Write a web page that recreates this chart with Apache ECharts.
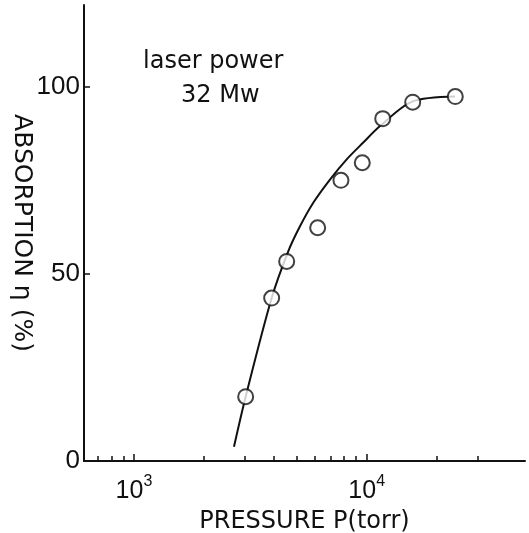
<!DOCTYPE html>
<html>
<head>
<meta charset="utf-8">
<script src="https://cdn.jsdelivr.net/npm/echarts@6/dist/echarts.min.js"></script>
<style>
html,body{margin:0;padding:0;background:#fff;}
#chart{width:529px;height:533px;}
</style>
</head>
<body>
<div id="chart"></div>
<script>
// Measured points (pressure in torr, absorption in %)
const pointPressure = [3020, 3906, 4531, 6157, 7753, 9575, 11720, 15770, 24030];
const pointAbsorption = [17.2, 43.6, 53.4, 62.4, 75.1, 79.8, 91.6, 96.0, 97.5];
// Fitted curve
const curvePressure = [2690, 3020, 3906, 4603, 5169, 5895, 6955, 8207, 9669, 11409, 15613, 23960];
const curveAbsorption = [3.8, 17.2, 43.6, 56.1, 62.8, 69.1, 75.3, 80.7, 85.2, 89.6, 96.1, 97.5];
// Axis ticks
const xMinorTicks = [700, 800, 900, 2000, 3000, 4000, 5000, 6000, 7000, 8000, 9000, 20000, 30000];
const xMajorTicks = [1000, 10000];
const yTicks = [0, 50, 100];
const annotation = ['laser power', '32 Mw'];

const FONT = 'Liberation Sans';
const TFONT = 'DejaVu Sans';
const chart = echarts.init(document.getElementById('chart'));

const points = pointPressure.map((p, i) => [p, pointAbsorption[i]]);
const curve = curvePressure.map((p, i) => [p, curveAbsorption[i]]);

const xCommon = {
  type: 'log',
  logBase: 10,
  min: 610,
  max: 47900,
  splitLine: { show: false },
  minorTick: { show: false },
  minorSplitLine: { show: false }
};

chart.setOption({
  animation: false,
  backgroundColor: '#fff',
  grid: { left: 84, right: 4, top: 5, bottom: 72, containLabel: false, outerBoundsMode: 'none' },
  xAxis: [
    Object.assign({}, xCommon, {
      position: 'bottom',
      name: 'PRESSURE P(torr)',
      nameLocation: 'middle',
      nameGap: 49,
      nameMoveOverlap: false,
      nameTextStyle: { fontFamily: TFONT, fontSize: 24, color: '#111' },
      axisLine: { show: true, onZero: false, lineStyle: { color: '#111', width: 2 } },
      axisTick: { show: true, inside: true, length: 5, customValues: xMinorTicks, lineStyle: { color: '#111', width: 1.5 } },
      axisLabel: {
        show: true,
        customValues: xMajorTicks,
        margin: 13,
        formatter: function (v) {
          const e = Math.round(Math.log10(v));
          return '{b|10}{s|' + e + '}';
        },
        rich: {
          b: { fontFamily: FONT, fontSize: 25, color: '#111', lineHeight: 30, verticalAlign: 'bottom' },
          s: { fontFamily: FONT, fontSize: 16, color: '#111', lineHeight: 30, verticalAlign: 'top' }
        }
      }
    }),
    Object.assign({}, xCommon, {
      position: 'bottom',
      axisLine: { show: false, onZero: false },
      axisTick: { show: true, inside: true, length: 7, customValues: xMajorTicks, lineStyle: { color: '#111', width: 1.5 } },
      axisLabel: { show: false }
    })
  ],
  yAxis: {
    type: 'value',
    min: 0,
    max: 122,
    name: 'ABSORPTION η (%)',
    nameLocation: 'middle',
    nameRotate: -90,
    nameGap: 50,
    nameMoveOverlap: false,
    nameTextStyle: { fontFamily: TFONT, fontSize: 25, color: '#111' },
    splitLine: { show: false },
    axisLine: { show: true, onZero: false, lineStyle: { color: '#111', width: 2 } },
    axisTick: { show: true, inside: true, length: 6, customValues: yTicks, lineStyle: { color: '#111', width: 1.5 } },
    axisLabel: { show: true, customValues: yTicks, margin: 4, fontFamily: FONT, fontSize: 26, color: '#111' }
  },
  graphic: [
    { type: 'text', left: 143, top: 50, style: { text: annotation[0], fontFamily: TFONT, fontSize: 24, fill: '#111' } },
    { type: 'text', left: 181, top: 84, style: { text: annotation[1], fontFamily: TFONT, fontSize: 24, fill: '#111' } }
  ],
  series: [
    {
      type: 'line',
      name: 'curve',
      data: curve,
      xAxisIndex: 0,
      smooth: 0.3,
      showSymbol: false,
      symbol: 'none',
      lineStyle: { color: '#111', width: 2 },
      z: 2
    },
    {
      type: 'scatter',
      name: 'points',
      data: points,
      xAxisIndex: 0,
      symbol: 'circle',
      symbolSize: 15,
      itemStyle: { color: '#fff', borderColor: '#111', borderWidth: 2 },
      z: 3
    }
  ]
});
</script>
</body>
</html>
